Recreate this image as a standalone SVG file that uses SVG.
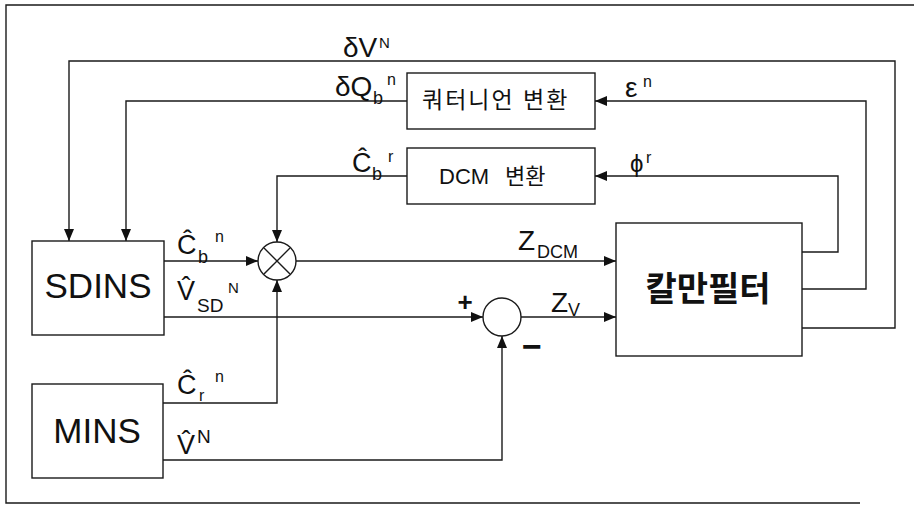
<svg xmlns="http://www.w3.org/2000/svg" width="914" height="505" viewBox="0 0 914 505">
<defs>
<marker id="ah" markerUnits="userSpaceOnUse" markerWidth="12" markerHeight="10" refX="12" refY="5" orient="auto">
<path d="M0,0 L12,5 L0,10 Z" fill="#111"/>
</marker>
<style>
.ln{fill:none;stroke:#1a1a1a;stroke-width:1.4}
.bx{fill:#fff;stroke:#1a1a1a;stroke-width:1.4}
.t{font-family:"Liberation Sans",Arial,sans-serif;fill:#111}
.k{font-family:"Liberation Sans","Noto Sans CJK KR",sans-serif;fill:#111}
.m{font-size:27px}
.s{font-size:18px}
.p{font-size:16px}
</style>
</defs>
<rect width="914" height="505" fill="#fff"/>
<path class="ln" d="M914,5 H6 V503 H860"/>

<g id="connectors">
<path class="ln" marker-end="url(#ah)" d="M802,328 H895 V61 H69 V241"/>
<path class="ln" marker-end="url(#ah)" d="M802,289 H866 V101 H595"/>
<path class="ln" marker-end="url(#ah)" d="M407,101 H126 V241"/>
<path class="ln" marker-end="url(#ah)" d="M802,252 H838 V176 H595"/>
<path class="ln" marker-end="url(#ah)" d="M407,176 H277 V242"/>
<path class="ln" marker-end="url(#ah)" d="M164,261 H258"/>
<path class="ln" marker-end="url(#ah)" d="M296,261 H616"/>
<path class="ln" marker-end="url(#ah)" d="M164,317 H483"/>
<path class="ln" marker-end="url(#ah)" d="M521,317 H616"/>
<path class="ln" marker-end="url(#ah)" d="M163,403 H277 V280"/>
<path class="ln" marker-end="url(#ah)" d="M163,460 H502 V336"/>
</g>

<g id="sdins">
<rect class="bx" x="32" y="241" width="132" height="94"/>
<text class="t" x="98" y="298" font-size="35" text-anchor="middle">SDINS</text>
</g>
<g id="mins">
<rect class="bx" x="32" y="384" width="131" height="94"/>
<text class="t" x="97" y="443" font-size="35" text-anchor="middle">MINS</text>
</g>
<g id="quaternion">
<rect class="bx" x="407" y="73" width="188" height="56"/>
<text class="k" x="422" y="108" font-size="23" letter-spacing="2">쿼터니언 변환</text>
</g>
<g id="dcm">
<rect class="bx" x="407" y="148" width="188" height="56"/>
<text class="k" y="184" font-size="22"><tspan x="439">DCM</tspan><tspan x="505">변환</tspan></text>
</g>
<g id="multiplier">
<circle class="bx" cx="277" cy="261" r="19"/>
<path class="ln" d="M264,248 L290,274 M290,248 L264,274"/>
</g>
<g id="summer">
<circle class="bx" cx="502" cy="317" r="19"/>
</g>
<g id="kalman">
<rect class="bx" x="616" y="223" width="186" height="133"/>
<text class="k" x="708" y="301" font-size="34" font-weight="bold" text-anchor="middle">칼만필터</text>
</g>

<g id="labels">
<text class="t" x="343" y="57" font-size="28">δV</text>
<text class="t" x="379" y="48" font-size="15">N</text>

<text class="t" x="335" y="96" font-size="28">δQ</text>
<text class="t s" x="373" y="104">b</text>
<text class="t p" x="387" y="85">n</text>

<text class="t m" x="352" y="172">Ĉ</text>
<text class="t s" x="372" y="180">b</text>
<text class="t p" x="388" y="162">r</text>

<text class="t" x="625" y="97" font-size="28">ε</text>
<text class="t p" x="643" y="87">n</text>

<text class="t" x="630" y="172" font-size="24">ϕ</text>
<text class="t p" x="646" y="163">r</text>

<text class="t m" x="177" y="254">Ĉ</text>
<text class="t s" x="198" y="263">b</text>
<text class="t p" x="215" y="242">n</text>

<text class="t m" x="177" y="300">V̂</text>
<text class="t" x="197" y="312" font-size="19">SD</text>
<text class="t" x="228" y="293" font-size="15">N</text>

<text class="t m" x="177" y="394">Ĉ</text>
<text class="t p" x="199" y="401">r</text>
<text class="t p" x="215" y="382">n</text>

<text class="t m" x="177" y="454">V̂</text>
<text class="t" x="197" y="443" font-size="19">N</text>

<text class="t" x="518" y="250" font-size="28">Z</text>
<text class="t s" x="537" y="258">DCM</text>

<text class="t" x="551" y="312" font-size="28">Z</text>
<text class="t s" x="568" y="316">V</text>

<text class="t" x="465" y="311" font-size="26" font-weight="bold" text-anchor="middle">+</text>
<text class="t" x="532" y="358" font-size="34" font-weight="bold" text-anchor="middle">−</text>
</g>
</svg>
